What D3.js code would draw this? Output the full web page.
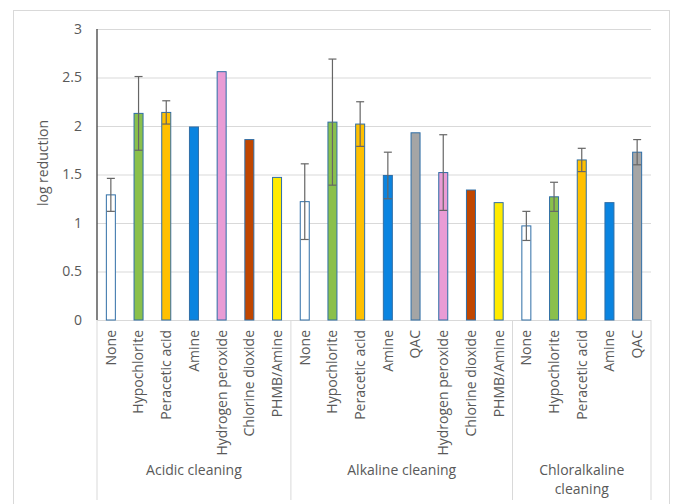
<!DOCTYPE html>
<html lang="en">
<head>
<meta charset="utf-8">
<title>log reduction by cleaning and disinfectant</title>
<script src="https://cdn.jsdelivr.net/npm/d3@7"></script>
<style>
  body { margin: 0; background: #fff; }
  text { font-family: "Open Sans", "Noto Sans", sans-serif; fill: #595959; }
</style>
</head>
<body>
<svg width="674" height="504"></svg>
<script>
// data
var groups = ["Acidic cleaning", "Alkaline cleaning", "Chloralkaline cleaning"];
var groupSizes = [7, 8, 5];
var treatments = ["None", "Hypochlorite", "Peracetic acid", "Amine", "Hydrogen peroxide", "Chlorine dioxide", "PHMB/Amine",
                  "None", "Hypochlorite", "Peracetic acid", "Amine", "QAC", "Hydrogen peroxide", "Chlorine dioxide", "PHMB/Amine",
                  "None", "Hypochlorite", "Peracetic acid", "Amine", "QAC"];
var values = [1.29, 2.13, 2.14, 1.99, 2.56, 1.86, 1.47,
              1.22, 2.04, 2.02, 1.49, 1.93, 1.52, 1.34, 1.21,
              0.97, 1.27, 1.65, 1.21, 1.73];
var errors = [0.17, 0.38, 0.12, null, null, null, null,
              0.39, 0.65, 0.23, 0.24, null, 0.39, null, null,
              0.15, 0.15, 0.12, null, 0.13];
var yTicks = [0, 0.5, 1, 1.5, 2, 2.5, 3];

var colors = {
  "None": "#ffffff",
  "Hypochlorite": "#8ac04c",
  "Peracetic acid": "#ffc000",
  "Amine": "#0a84e0",
  "QAC": "#a5a5a5",
  "Hydrogen peroxide": "#e99cd5",
  "Chlorine dioxide": "#c04600",
  "PHMB/Amine": "#ffeb00"
};

var svg = d3.select("svg"),
    margin = {top: 29, right: 23, bottom: 184, left: 97},
    width = +svg.attr("width") - margin.left - margin.right,
    height = +svg.attr("height") - margin.top - margin.bottom;

// chart frame
svg.append("rect")
    .attr("x", 13.5).attr("y", 10.5)
    .attr("width", 656).attr("height", 510)
    .attr("fill", "none")
    .attr("stroke", "#d9d9d9");

var x = d3.scaleBand().domain(d3.range(values.length)).range([0, width]),
    y = d3.scaleLinear().domain([0, 3]).range([height, 0]);

var g = svg.append("g")
    .attr("transform", "translate(" + margin.left + "," + margin.top + ")");

// gridlines + y labels
var yAxis = g.append("g")
    .call(d3.axisLeft(y).tickValues(yTicks).tickSize(-width).tickFormat(d3.format("")));
yAxis.select(".domain").remove();
yAxis.selectAll("line").attr("stroke", "#d9d9d9");
yAxis.selectAll("text")
    .attr("x", -15)
    .style("font-size", "14px")
    .style("fill", "#595959");

g.append("text")
    .attr("transform", "rotate(-90)")
    .attr("x", -134)
    .attr("y", -49)
    .attr("text-anchor", "middle")
    .style("font-size", "14px")
    .text("log reduction");

// group dividers under the axis
var bounds = [0];
groupSizes.forEach(function(n, i) { bounds.push(bounds[i] + n); });
g.selectAll(".divider")
    .data(bounds)
  .enter().append("line")
    .attr("class", "divider")
    .attr("x1", function(d) { return d === values.length ? width : x(d); })
    .attr("x2", function(d) { return d === values.length ? width : x(d); })
    .attr("y1", height)
    .attr("y2", height + 180)
    .attr("stroke", "#d9d9d9");

// bars
var bw = 9;
g.selectAll(".bar")
    .data(values)
  .enter().append("rect")
    .attr("class", "bar")
    .attr("x", function(d, i) { return x(i) + x.bandwidth() / 2 - bw / 2; })
    .attr("y", function(d) { return y(d); })
    .attr("width", bw)
    .attr("height", function(d) { return height - y(d); })
    .attr("fill", function(d, i) { return colors[treatments[i]]; })
    .attr("stroke", "#2f6ea6")
    .attr("stroke-width", 1);

// error bars
var errData = values.map(function(v, i) { return {i: i, v: v, e: errors[i]}; })
    .filter(function(d) { return d.e != null; });
var eb = g.selectAll(".err").data(errData).enter().append("g")
    .attr("class", "err")
    .attr("stroke", "#666666")
    .attr("stroke-width", 1.2);
eb.append("line")
    .attr("x1", function(d) { return x(d.i) + x.bandwidth() / 2; })
    .attr("x2", function(d) { return x(d.i) + x.bandwidth() / 2; })
    .attr("y1", function(d) { return y(d.v + d.e); })
    .attr("y2", function(d) { return y(d.v - d.e); });
eb.selectAll(".cap")
    .data(function(d) { return [d.v + d.e, d.v - d.e].map(function(t) { return {i: d.i, t: t}; }); })
  .enter().append("line")
    .attr("x1", function(d) { return x(d.i) + x.bandwidth() / 2 - 4; })
    .attr("x2", function(d) { return x(d.i) + x.bandwidth() / 2 + 4; })
    .attr("y1", function(d) { return y(d.t); })
    .attr("y2", function(d) { return y(d.t); });

// y axis line
g.append("line")
    .attr("x1", 0).attr("x2", 0)
    .attr("y1", 0).attr("y2", height)
    .attr("stroke", "#404040")
    .attr("stroke-width", 1.3);

// category labels
var xAxis = g.append("g")
    .attr("transform", "translate(0," + height + ")")
    .call(d3.axisBottom(x).tickSize(0).tickFormat(function(i) { return treatments[i]; }));
xAxis.select(".domain").remove();
xAxis.selectAll("text")
    .attr("transform", "rotate(-90)")
    .attr("x", -10)
    .attr("y", 0)
    .attr("dy", "0.35em")
    .attr("text-anchor", "end")
    .style("font-size", "14px")
    .style("fill", "#595959");

// group labels
var groupLines = [["Acidic cleaning"], ["Alkaline cleaning"], ["Chloralkaline", "cleaning"]];
groups.forEach(function(name, k) {
  var cx = (x(bounds[k]) + (bounds[k + 1] === values.length ? width : x(bounds[k + 1]))) / 2;
  var t = g.append("text")
      .attr("x", cx)
      .attr("y", height + 155)
      .attr("text-anchor", "middle")
      .style("font-size", "14px");
  groupLines[k].forEach(function(line, j) {
    t.append("tspan").attr("x", cx).attr("dy", j === 0 ? 0 : 19).text(line);
  });
});
</script>
</body>
</html>
